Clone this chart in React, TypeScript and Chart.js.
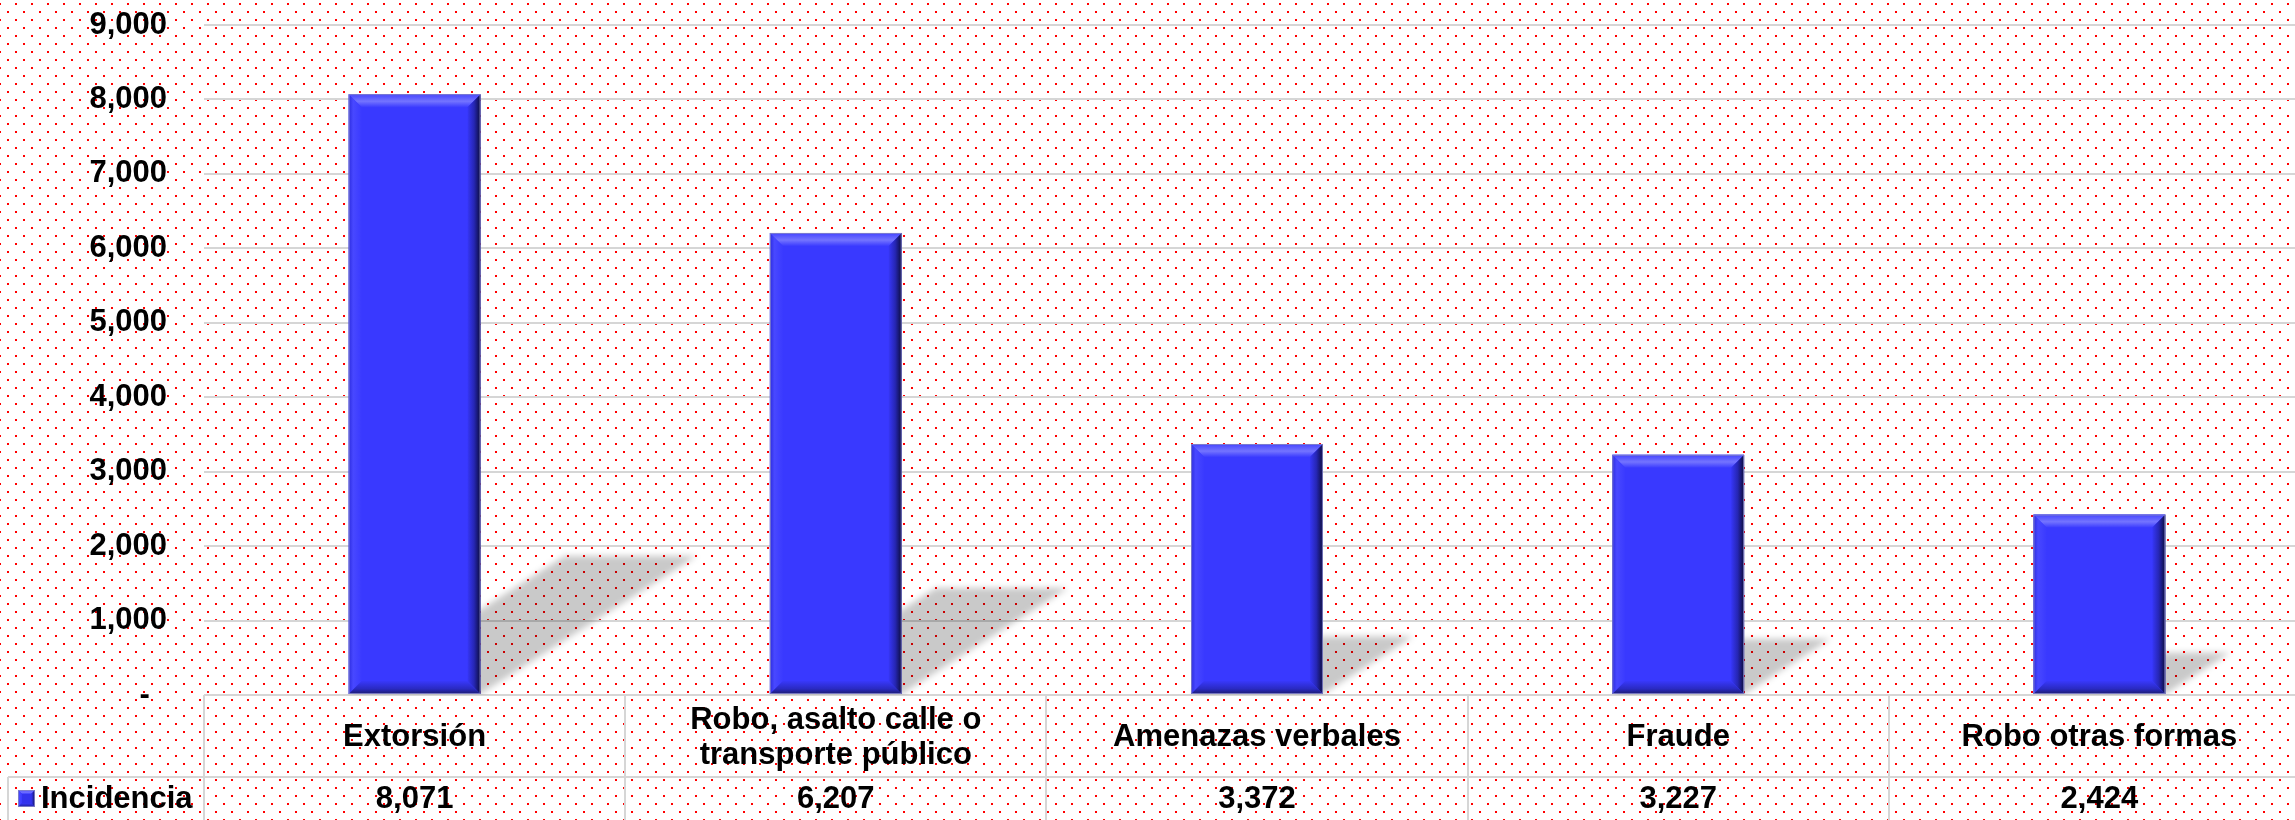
import React, { useEffect, useRef } from "react";
import { Chart, registerables } from "chart.js";

Chart.register(...registerables);

// ---- data ----
const categories: (string | string[])[] = [
  "Extorsión",
  ["Robo, asalto calle o", "transporte público"],
  "Amenazas verbales",
  "Fraude",
  "Robo otras formas",
];
const seriesName = "Incidencia";
const incidencia: number[] = [8071, 6207, 3372, 3227, 2424];
const yMin = 0;
const yMax = 9000;
const yStep = 1000;

// ---- style ----
const FONT = '"Liberation Sans", Arial, Helvetica, sans-serif';
const BAR = "#3939FF";
const GRID = "#d6d6d6";
const CANVAS_W = 2320;
const CANVAS_H = 820;

const fmt = (v: number) => v.toLocaleString("en-US");

function makePattern(ctx: CanvasRenderingContext2D) {
  const c = document.createElement("canvas");
  c.width = 16;
  c.height = 16;
  const p = c.getContext("2d")!;
  p.fillStyle = "#ffffff";
  p.fillRect(0, 0, 16, 16);
  p.fillStyle = "#ff0000";
  p.fillRect(15, 3, 2, 2);
  p.fillRect(-1, 3, 2, 2);
  p.fillRect(7, 11, 2, 2);
  return ctx.createPattern(c, "repeat")!;
}

function poly(ctx: CanvasRenderingContext2D, pts: number[][], fill: any) {
  ctx.beginPath();
  ctx.moveTo(pts[0][0], pts[0][1]);
  for (let i = 1; i < pts.length; i++) ctx.lineTo(pts[i][0], pts[i][1]);
  ctx.closePath();
  ctx.fillStyle = fill;
  ctx.fill();
}

function bevel(ctx: CanvasRenderingContext2D, l: number, t: number, r: number, b: number, size: number) {
  const s = Math.min(size, (r - l) / 2, (b - t) / 2);
  let g = ctx.createLinearGradient(0, t, 0, t + s);
  g.addColorStop(0, "#4444ff");
  g.addColorStop(0.55, "#7474ff");
  g.addColorStop(1, "#3c3cff");
  poly(ctx, [[l, t], [r, t], [r - s, t + s], [l + s, t + s]], g);

  g = ctx.createLinearGradient(l, 0, l + s, 0);
  g.addColorStop(0, "#2c2ce0");
  g.addColorStop(0.35, "#4848ff");
  g.addColorStop(1, "#3a3aff");
  poly(ctx, [[l, t], [l + s, t + s], [l + s, b - s], [l, b]], g);

  g = ctx.createLinearGradient(r - s, 0, r, 0);
  g.addColorStop(0, "#3636f6");
  g.addColorStop(0.5, "#2626b4");
  g.addColorStop(1, "#0c0c3c");
  poly(ctx, [[r, t], [r, b], [r - s, b - s], [r - s, t + s]], g);

  g = ctx.createLinearGradient(0, b - s, 0, b);
  g.addColorStop(0, "#3838fa");
  g.addColorStop(0.6, "#2a2ac2");
  g.addColorStop(1, "#1c1c70");
  poly(ctx, [[l, b], [l + s, b - s], [r - s, b - s], [r, b]], g);

  ctx.strokeStyle = "rgba(130,130,200,0.9)";
  ctx.lineWidth = 1;
  ctx.strokeRect(l + 0.5, t + 0.5, r - l - 1, b - t - 1);
}

const backgroundPlugin = {
  id: "bgPattern",
  beforeDraw(chart: any) {
    const ctx = chart.ctx as CanvasRenderingContext2D;
    ctx.save();
    ctx.fillStyle = makePattern(ctx);
    ctx.fillRect(0, 0, chart.width, chart.height);
    ctx.restore();
  },
};

const shadowPlugin = {
  id: "barShadow",
  beforeDatasetsDraw(chart: any) {
    const ctx = chart.ctx as CanvasRenderingContext2D;
    const area = chart.chartArea;
    const meta = chart.getDatasetMeta(0);
    ctx.save();
    ctx.beginPath();
    ctx.rect(area.left, area.top, area.right - area.left, area.bottom - area.top);
    ctx.clip();
    ctx.filter = "blur(3px)";
    ctx.fillStyle = "rgba(0,0,0,0.21)";
    meta.data.forEach((bar: any) => {
      const { x, y, base, width } = bar.getProps(["x", "y", "base", "width"], true);
      const h = base - y;
      const l = x - width / 2;
      const r = x + width / 2;
      const dx = 0.36 * h;
      const dy = 0.23 * h;
      ctx.beginPath();
      ctx.moveTo(l, base);
      ctx.lineTo(r, base);
      ctx.lineTo(r + dx, base - dy);
      ctx.lineTo(l + dx, base - dy);
      ctx.closePath();
      ctx.fill();
    });
    ctx.restore();
  },
};

const bevelPlugin = {
  id: "barBevel",
  afterDatasetsDraw(chart: any) {
    const ctx = chart.ctx as CanvasRenderingContext2D;
    const meta = chart.getDatasetMeta(0);
    ctx.save();
    meta.data.forEach((bar: any) => {
      const { x, y, base, width } = bar.getProps(["x", "y", "base", "width"], true);
      bevel(ctx, x - width / 2, y, x + width / 2, base, 13);
    });
    ctx.restore();
  },
};

const tablePlugin = {
  id: "dataTable",
  afterDraw(chart: any) {
    const ctx = chart.ctx as CanvasRenderingContext2D;
    const xs = chart.scales.x;
    const area = chart.chartArea;
    const n = categories.length;
    const catW = (area.right - area.left) / n;
    const rowY = area.bottom + 82;
    const H = chart.height;
    ctx.save();
    ctx.strokeStyle = GRID;
    ctx.lineWidth = 2;
    ctx.beginPath();
    for (let i = 0; i <= n; i++) {
      const bx = Math.round(area.left + i * catW);
      ctx.moveTo(bx, area.bottom);
      ctx.lineTo(bx, H);
    }
    ctx.moveTo(8, rowY);
    ctx.lineTo(chart.width, rowY);
    ctx.moveTo(8, rowY);
    ctx.lineTo(8, H);
    ctx.stroke();

    const valY = rowY + 22;
    ctx.fillStyle = "#000";
    ctx.font = `bold 31px ${FONT}`;
    ctx.textAlign = "center";
    ctx.textBaseline = "middle";
    incidencia.forEach((v, i) => {
      ctx.fillText(fmt(v), xs.getPixelForValue(i), valY);
    });

    // legend key
    const kx = 18, ky = valY - 9, ks = 17;
    ctx.fillStyle = "#3333ee";
    ctx.fillRect(kx, ky, ks, ks);
    bevel(ctx, kx, ky, kx + ks, ky + ks, 4);
    ctx.fillStyle = "#000";
    ctx.textAlign = "left";
    ctx.fillText(seriesName, 41, valY);
    ctx.restore();
  },
};

export default function App() {
  const ref = useRef<HTMLCanvasElement | null>(null);

  useEffect(() => {
    const canvas = ref.current!;
    const chart = new Chart(canvas, {
      type: "bar",
      data: {
        labels: categories as any,
        datasets: [
          {
            label: seriesName,
            data: incidencia,
            backgroundColor: BAR,
            borderWidth: 0,
            categoryPercentage: 1,
            barPercentage: 0.313,
          },
        ],
      },
      options: {
        animation: false,
        responsive: false,
        devicePixelRatio: 1,
        layout: { padding: { top: 25, right: 10, left: 0, bottom: 0 } },
        plugins: {
          legend: { display: false },
          tooltip: { enabled: false },
        },
        scales: {
          x: {
            offset: true,
            grid: { display: false, drawTicks: false },
            border: { display: false },
            ticks: {
              color: "#000",
              font: { family: FONT, size: 31, weight: "bold", lineHeight: 1.13 },
              padding: 25,
              maxRotation: 0,
              minRotation: 0,
              autoSkip: false,
              crossAlign: "center",
            },
            afterFit(scale: any) {
              scale.height = 125;
            },
          },
          y: {
            min: yMin,
            max: yMax,
            grid: {
              color: GRID,
              lineWidth: 2,
              drawTicks: true,
              tickLength: 37,
              tickColor: "rgba(0,0,0,0)",
            },
            border: { display: false },
            ticks: {
              stepSize: yStep,
              color: "#000",
              font: { family: FONT, size: 31, weight: "bold" },
              padding: 0,
              callback: (v: any) => (Number(v) === 0 ? "-  " : fmt(Number(v))),
            },
            afterFit(scale: any) {
              scale.width = 204;
            },
          },
        },
      },
      plugins: [backgroundPlugin, shadowPlugin, bevelPlugin, tablePlugin],
    });
    return () => chart.destroy();
  }, []);

  return (
    <div
      style={{
        position: "fixed",
        left: 0,
        top: 0,
        width: 2295,
        height: 820,
        overflow: "hidden",
        background: "#fff",
      }}
    >
      <canvas
        ref={ref}
        width={CANVAS_W}
        height={CANVAS_H}
        style={{ width: CANVAS_W, height: CANVAS_H, display: "block" }}
      />
    </div>
  );
}
